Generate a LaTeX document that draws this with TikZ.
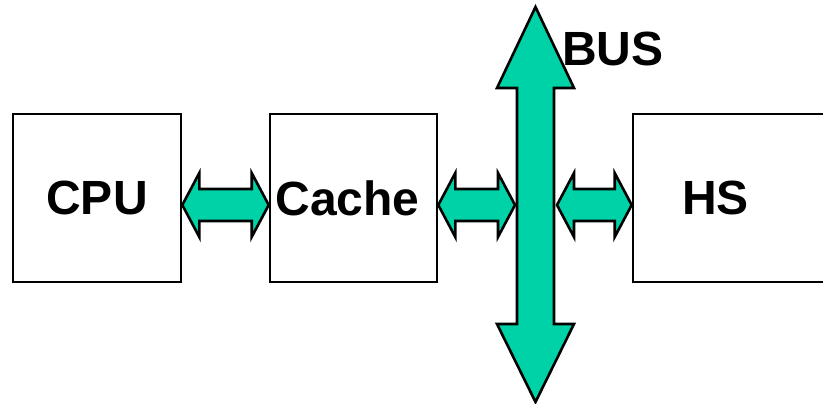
\documentclass[tikz,border=0pt]{standalone}
\usepackage{fontspec}
\setmainfont{Liberation Sans}
\usetikzlibrary{calc}
\definecolor{busgreen}{RGB}{0,210,168}
\tikzset{
  box/.style={draw=black, line width=2.6pt, fill=white, minimum height=168pt, inner sep=0pt,
              font=\fontsize{48}{50}\selectfont\bfseries},
  fat/.style={draw=black, line width=2.6pt, fill=busgreen, line join=miter},
  lbl/.style={font=\fontsize{48}{50}\selectfont\bfseries, inner sep=0pt}
}
\newcommand\fatarrow[2]{%
  \draw[fat] let \p1=(#1), \p2=(#2) in
    (\x1,\y1) -- (\x1+17pt,\y1-32pt) -- (\x1+17pt,\y1-16pt) -- (\x2-17pt,\y2-16pt)
    -- (\x2-17pt,\y2-32pt) -- (\x2,\y2) -- (\x2-17pt,\y2+32pt) -- (\x2-17pt,\y2+16pt)
    -- (\x1+17pt,\y1+16pt) -- (\x1+17pt,\y1+32pt) -- cycle;}
\begin{document}
\begin{tikzpicture}[x=1pt,y=-1pt]
\clip (0,0) rectangle (823,404);
\useasboundingbox (0,0) rectangle (823,404);
\node[box, minimum width=168pt] (cpu) at (97,198) {\raisebox{-2pt}{CPU}};
\node[box, minimum width=167pt] (cache) at (353.5,198) {\hspace*{-12pt}\raisebox{-1pt}{Cache}};
\node[box, minimum width=210pt, text width=112pt, inner xsep=49pt, align=left] (hs) at (738,198) {\raisebox{-2pt}{HS}};
\coordinate (mid) at (0,205);
\coordinate (bustop) at (535.5,7);
\coordinate (busbot) at (535.5,402);
\coordinate (busL) at (515,205);
\coordinate (busR) at (557,205);
% BUS arrow
\draw[fat] let \p1=(bustop), \p2=(busbot) in
  (\x1,\y1) -- (\x1+38.5pt,\y1-81pt) -- (\x1+18.5pt,\y1-81pt) -- (\x2+18.5pt,\y2+78pt)
  -- (\x2+38.5pt,\y2+78pt) -- (\x2,\y2) -- (\x2-38.5pt,\y2+78pt) -- (\x2-18.5pt,\y2+78pt)
  -- (\x1-18.5pt,\y1-81pt) -- (\x1-38.5pt,\y1-81pt) -- cycle;
\node[lbl] (bus) at (613,49) {BUS};
\fatarrow{cpu.east |- mid}{cache.west |- mid}
\fatarrow{cache.east |- mid}{busL}
\fatarrow{busR}{hs.west |- mid}
\end{tikzpicture}
\end{document}
